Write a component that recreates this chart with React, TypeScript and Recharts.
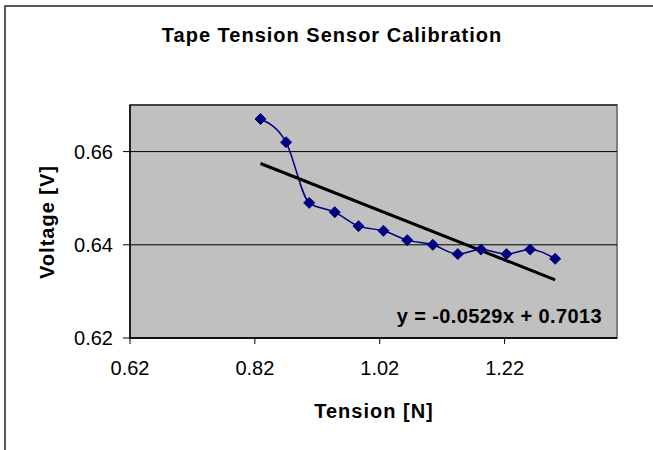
import React from "react";
import { ComposedChart, Line, XAxis, YAxis, CartesianGrid } from "recharts";

const tension = [0.829, 0.87, 0.907, 0.948, 0.986, 1.026, 1.064, 1.105, 1.145, 1.182, 1.223, 1.261, 1.301];
const voltage = [0.667, 0.662, 0.649, 0.647, 0.644, 0.643, 0.641, 0.64, 0.638, 0.639, 0.638, 0.639, 0.637];
const xTicks = [0.62, 0.82, 1.02, 1.22];
const yTicks = [0.62, 0.64, 0.66];
const slope = -0.0529;
const intercept = 0.7013;
const trendX = [0.829, 1.301];

const data = tension.map((x, i) => ({ x, v: voltage[i] }));
const trendData = trendX.map((x) => ({ x, t: slope * x + intercept }));

const FONT = "'Liberation Sans', Arial, Helvetica, sans-serif";

const Diamond = (props: any) => {
  const { cx, cy } = props;
  if (cx == null || cy == null) return null;
  const r = 5.5;
  return (
    <polygon
      points={`${cx},${cy - r} ${cx + r},${cy} ${cx},${cy + r} ${cx - r},${cy}`}
      fill="#000080"
      stroke="#000080"
    />
  );
};

export default function App() {
  return (
    <div style={{ position: "absolute", left: 0, top: 0, width: 653, height: 450, background: "#fff", overflow: "hidden" }}>
      <svg width={653} height={450} style={{ position: "absolute", left: 0, top: 0 }}>
        <rect x={5} y={6} width={700} height={500} fill="#fff" stroke="#222" strokeWidth={1.5} />
        <rect x={130} y={105} width={487} height={233} fill="#C0C0C0" stroke="#808080" strokeWidth={2} />
      </svg>
      <div style={{ position: "absolute", left: 0, top: 0 }}>
        <ComposedChart
          width={653}
          height={450}
          margin={{ top: 105, right: 36, bottom: 72, left: 70 }}
          style={{ fontFamily: FONT }}
        >
          <CartesianGrid horizontal vertical={false} stroke="#000" strokeWidth={1} />
          <XAxis
            type="number"
            dataKey="x"
            domain={[0.62, 1.4]}
            ticks={xTicks}
            tickFormatter={(v: number) => v.toFixed(2)}
            height={40}
            allowDataOverflow
            axisLine={{ stroke: "#000", strokeWidth: 1.5 }}
            tickLine={{ stroke: "#000" }}
            tickSize={6}
            tickMargin={17}
            tick={{ fill: "#000", fontSize: 20, fontFamily: FONT }}
            interval={0}
          />
          <YAxis
            type="number"
            domain={[0.62, 0.67]}
            ticks={yTicks}
            tickFormatter={(v: number) => v.toFixed(2)}
            width={60}
            allowDataOverflow
            axisLine={{ stroke: "#000", strokeWidth: 1.5 }}
            tickLine={{ stroke: "#000" }}
            tickSize={7}
            tickMargin={10}
            tick={{ fill: "#000", fontSize: 20, fontFamily: FONT }}
            interval={0}
          />
          <Line
            data={data}
            dataKey="v"
            type="monotone"
            stroke="#000080"
            strokeWidth={1.5}
            dot={<Diamond />}
            activeDot={false}
            isAnimationActive={false}
          />
          <Line
            data={trendData}
            dataKey="t"
            type="linear"
            stroke="#000"
            strokeWidth={3}
            dot={false}
            activeDot={false}
            isAnimationActive={false}
          />
        </ComposedChart>
      </div>
      <svg width={653} height={450} style={{ position: "absolute", left: 0, top: 0, pointerEvents: "none" }}>
        <text x={332} y={42} textAnchor="middle" fontFamily={FONT} fontWeight="bold" fontSize={20} letterSpacing={1} fill="#000">
          Tape Tension Sensor Calibration
        </text>
        <text x={374} y={418} textAnchor="middle" fontFamily={FONT} fontWeight="bold" fontSize={20} letterSpacing={1} fill="#000">
          Tension [N]
        </text>
        <text
          x={54}
          y={222}
          textAnchor="middle"
          transform="rotate(-90, 54, 222)"
          fontFamily={FONT}
          fontWeight="bold"
          fontSize={20}
          letterSpacing={1}
          fill="#000"
        >
          Voltage [V]
        </text>
        <text x={602} y={323} textAnchor="end" fontFamily={FONT} fontWeight="bold" fontSize={20} letterSpacing={0.4} fill="#000">
          y = -0.0529x + 0.7013
        </text>
      </svg>
    </div>
  );
}
